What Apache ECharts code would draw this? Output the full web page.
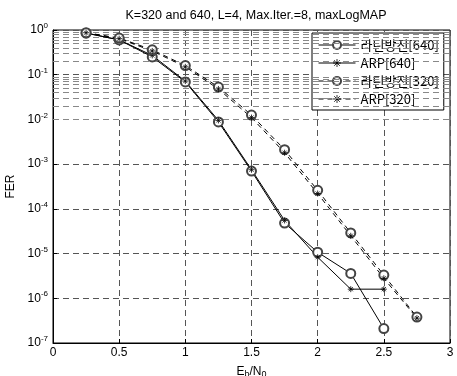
<!DOCTYPE html>
<html>
<head>
<meta charset="utf-8">
<script src="https://cdn.jsdelivr.net/npm/echarts@6/dist/echarts.min.js"></script>
<style>
  html, body { margin: 0; padding: 0; background: #fff; }
  #main { width: 457px; height: 376px; }
</style>
</head>
<body>
<div id="main"></div>
<script>
// Eb/N0 points
var snr640 = [0.25, 0.5, 0.75, 1.0, 1.25, 1.5, 1.75, 2.0, 2.25, 2.5];
var snr320 = [0.25, 0.5, 0.75, 1.0, 1.25, 1.5, 1.75, 2.0, 2.25, 2.5, 2.75];
// FER values
var latin640 = [0.85, 0.6, 0.25, 0.069, 0.0088, 7.0e-4, 4.8e-5, 1.07e-5, 3.6e-6, 2.1e-7];
var arp640 = [0.86, 0.6, 0.27, 0.072, 0.0095, 7.5e-4, 5.5e-5, 8.3e-6, 1.6e-6, 1.6e-6];
var latin320 = [0.87, 0.66, 0.36, 0.16, 0.053, 0.0125, 0.0021, 2.6e-4, 2.9e-5, 3.3e-6, 3.8e-7];
var arp320 = [0.87, 0.64, 0.34, 0.15, 0.048, 0.011, 0.0018, 2.2e-4, 2.5e-5, 2.8e-6, 3.6e-7];

var seriesNames = ["라틴방진[640]", "ARP[640]", "라틴방진[320]", "ARP[320]"];
var titleText = "K=320 and 640, L=4, Max.Iter.=8, maxLogMAP";

// minor log grid lines (2..9 x 10^-k)
var minorFactors = [2, 3, 4, 5, 6, 7, 8, 9];
var minorDecades = [1e-7, 1e-6, 1e-5, 1e-4, 1e-3, 1e-2, 1e-1];

function pairs(xs, ys) {
  var out = [];
  for (var i = 0; i < ys.length; i++) out.push([xs[i], ys[i]]);
  return out;
}

var minorLines = [];
minorDecades.forEach(function (d) {
  minorFactors.forEach(function (f) {
    minorLines.push({ yAxis: f * d });
  });
});

var starPath = "path://M0,5L10,5M5,0L5,10M1.5,1.5L8.5,8.5M8.5,1.5L1.5,8.5";

var myChart = echarts.init(document.getElementById("main"), null, { renderer: "canvas" });

var font = "Liberation Sans, Arial, sans-serif";

var option = {
  animation: false,
  backgroundColor: "#fff",
  title: {
    text: titleText,
    left: 251,
    textAlign: "center",
    top: 4,
    textStyle: { fontSize: 12.5, fontWeight: "normal", color: "#000", fontFamily: font }
  },
  grid: {
    left: 53, right: 7, top: 30, bottom: 33,
    outerBoundsMode: "none",
    show: true, borderColor: "#000", borderWidth: 1, backgroundColor: "transparent"
  },
  legend: {
    orient: "vertical",
    left: 312,
    top: 33,
    padding: [5, 5, 4, 6],
    itemWidth: 37,
    itemHeight: 10,
    itemGap: 4,
    borderColor: "#000",
    borderWidth: 1,
    backgroundColor: "#fff",
    lineStyle: { width: 1 },
    itemStyle: { borderWidth: 0.8 },
    textStyle: { fontSize: 13, lineHeight: 14, color: "#000", fontFamily: "Noto Sans CJK KR, sans-serif" },
    data: seriesNames
  },
  xAxis: {
    type: "value",
    min: 0, max: 3, interval: 0.5,
    name: "{n|E}{sub|b}{n|/N}{sub|0}",
    nameLocation: "middle",
    nameGap: 21,
    nameTextStyle: {
      rich: {
        n: { fontSize: 12, color: "#000", fontFamily: font },
        sub: { fontSize: 9, color: "#000", fontFamily: font, padding: [6, 0, 0, 0] }
      }
    },
    axisLine: { lineStyle: { color: "#000" } },
    axisTick: { inside: true, length: 4, lineStyle: { color: "#000" } },
    axisLabel: { fontSize: 12, color: "#000", fontFamily: font, margin: 4 },
    splitLine: { show: true, lineStyle: { color: "#555", type: [6, 4], width: 1 } }
  },
  yAxis: {
    type: "log",
    logBase: 10,
    min: 1e-7, max: 1,
    name: "FER",
    nameLocation: "middle",
    nameGap: 34,
    nameTextStyle: { fontSize: 12, color: "#000", fontFamily: font },
    axisLine: { lineStyle: { color: "#000" } },
    axisTick: { inside: true, length: 4, lineStyle: { color: "#000" } },
    axisLabel: {
      margin: 5,
      formatter: function (v) {
        var e = Math.round(Math.log10(v));
        return "{b|10}{s|" + e + "}";
      },
      rich: {
        b: { fontSize: 12, color: "#000", fontFamily: font },
        s: { fontSize: 8, color: "#000", fontFamily: font, padding: [0, 0, 8, 0] }
      }
    },
    splitLine: { show: true, lineStyle: { color: "#555", type: [6, 4], width: 1 } }
  },
  series: [
    {
      name: seriesNames[0],
      type: "line",
      data: pairs(snr640, latin640),
      symbol: "emptyCircle",
      symbolSize: 9,
      lineStyle: { color: "#000", width: 1, type: "solid" },
      itemStyle: { color: "#444", borderColor: "#444", borderWidth: 0.8 },
      markLine: {
        silent: true,
        symbol: "none",
        label: { show: false },
        lineStyle: { color: "#888", type: [6, 4], width: 1 },
        data: minorLines
      },
      z: 5
    },
    {
      name: seriesNames[1],
      type: "line",
      data: pairs(snr640, arp640),
      symbol: starPath,
      symbolSize: 6,
      lineStyle: { color: "#000", width: 1, type: "solid" },
      itemStyle: { color: "#000", borderColor: "#000", borderWidth: 0.8 },
      z: 5
    },
    {
      name: seriesNames[2],
      type: "line",
      data: pairs(snr320, latin320),
      symbol: "emptyCircle",
      symbolSize: 9,
      lineStyle: { color: "#000", width: 1, type: [5, 4] },
      itemStyle: { color: "#444", borderColor: "#444", borderWidth: 0.8 },
      z: 5
    },
    {
      name: seriesNames[3],
      type: "line",
      data: pairs(snr320, arp320),
      symbol: starPath,
      symbolSize: 6,
      lineStyle: { color: "#000", width: 1, type: [5, 4] },
      itemStyle: { color: "#000", borderColor: "#000", borderWidth: 0.8 },
      z: 5
    }
  ]
};

myChart.setOption(option);
</script>
</body>
</html>
